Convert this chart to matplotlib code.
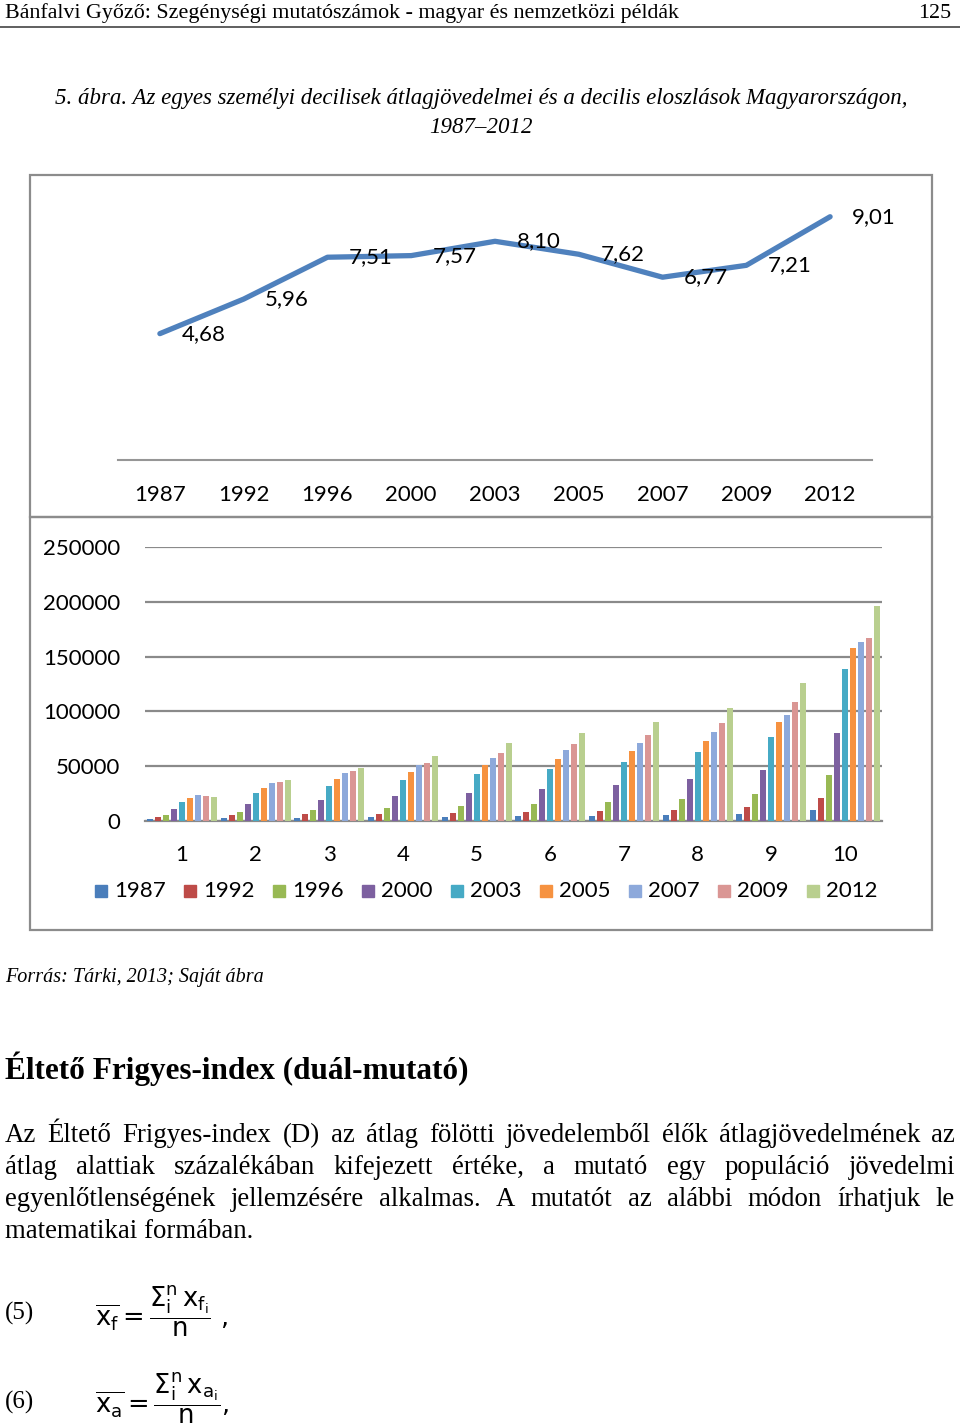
import numpy as np
import matplotlib
matplotlib.use('Agg')
import matplotlib.pyplot as plt
from matplotlib.patches import Rectangle

# Adatok
evek = ['1987', '1992', '1996', '2000', '2003', '2005', '2007', '2009', '2012']
arany = [4.68, 5.96, 7.51, 7.57, 8.10, 7.62, 6.77, 7.21, 9.01]
arany_cimke = ['4,68', '5,96', '7,51', '7,57', '8,10', '7,62', '6,77', '7,21', '9,01']

decilisek = ['1', '2', '3', '4', '5', '6', '7', '8', '9', '10']
# decilisenkénti átlagjövedelmek, évenként (becsült értékek)
d1987 = [2200, 2700, 3000, 3400, 4000, 4300, 4900, 5800, 6700, 10400]
d1992 = [3600, 5200, 6100, 6700, 7600, 8200, 9200, 10400, 12500, 21400]
d1996 = [5600, 8200, 10400, 12200, 13700, 15600, 17700, 20200, 24700, 42100]
d2000 = [10500, 15600, 19200, 22600, 26000, 29000, 32700, 37900, 46100, 80000]
d2003 = [17100, 25700, 31800, 37600, 42800, 47600, 54000, 62600, 76300, 138600]
d2005 = [20800, 30500, 37900, 44600, 51300, 56500, 63500, 73000, 90700, 158200]
d2007 = [24100, 35100, 43400, 50700, 57400, 64400, 71500, 80900, 97100, 163400]
d2009 = [23100, 35400, 45500, 52800, 61700, 70200, 78500, 89800, 109000, 166700]
d2012 = [21700, 37300, 48600, 59600, 70900, 80000, 90100, 103200, 125800, 196000]
sorozatok = [d1987, d1992, d1996, d2000, d2003, d2005, d2007, d2009, d2012]
y_ticks = [0, 50000, 100000, 150000, 200000, 250000]

szinek = ['#4A7EBB', '#BE4B48', '#98B954', '#7D60A0', '#46AAC5',
          '#F69240', '#8DA9DB', '#DA9694', '#B9CF8F']

W, H = 960, 1425
fig = plt.figure(figsize=(W / 100, H / 100), dpi=100)
fig.patch.set_facecolor('white')

def fx(x):
    return x / W

def fy(y):
    return 1 - y / H

def box(x0, y0, x1, y1, **kw):
    return fig.add_axes([fx(x0), fy(y1), (x1 - x0) / W, (y1 - y0) / H], **kw)

serif = 'Liberation Serif'
chartfont = 'Lato'

# Fejléc
fig.text(fx(5), fy(18), 'Bánfalvi Győző: Szegénységi mutatószámok - magyar és nemzetközi példák',
         family=serif, fontsize=15.8, va='baseline', ha='left')
fig.text(fx(951), fy(18), '125', family=serif, fontsize=15.8, va='baseline', ha='right')
fig.add_artist(plt.Line2D([0, 1], [fy(27), fy(27)], color='#444444', lw=1.2))

# Cím
fig.text(fx(481), fy(104), '5. ábra. Az egyes személyi decilisek átlagjövedelmei és a decilis eloszlások Magyarországon,',
         family=serif, style='italic', fontsize=16.5, ha='center', va='baseline')
fig.text(fx(481), fy(133), '1987–2012', family=serif, style='italic', fontsize=16.5,
         ha='center', va='baseline')

# Keretek
for (y0, y1) in [(175, 517), (517, 930)]:
    fig.add_artist(Rectangle((fx(30), fy(y1)), 902 / W, (y1 - y0) / H,
                             transform=fig.transFigure, fill=False,
                             edgecolor='#8C8C8C', lw=1.6))

# Vonaldiagram
ax1 = box(118, 190, 872, 460)
xs = np.arange(len(evek))
ax1.plot(xs, arany, color='#4F81BD', lw=3.8, solid_capstyle='round')
for x, v, c in zip(xs, arany, arany_cimke):
    ax1.text(x + 0.52, v, c, family=chartfont, fontsize=16, ha='center', va='center')
ax1.set_xlim(-0.5, len(evek) - 0.5)
ax1.set_ylim(0, 10)
ax1.set_xticks(xs)
ax1.set_xticklabels(evek, family=chartfont, fontsize=16)
ax1.set_yticks([])
ax1.tick_params(axis='x', length=0, pad=18)
for s in ['top', 'left', 'right']:
    ax1.spines[s].set_visible(False)
ax1.spines['bottom'].set_color('#969696')
ax1.spines['bottom'].set_linewidth(1.5)
ax1.patch.set_alpha(0)

# Oszlopdiagram
ax2 = box(145, 547, 882, 821)
xd = np.arange(len(decilisek))
slot = 0.1085
for j, (sor, szin) in enumerate(zip(sorozatok, szinek)):
    ax2.bar(xd + (j - 4) * slot, sor, width=0.081, color=szin, zorder=3)
ax2.set_xlim(-0.5, len(decilisek) - 0.5)
ax2.set_ylim(0, 250000)
ax2.set_yticks(y_ticks)
ax2.set_yticklabels([str(t) for t in y_ticks], family=chartfont, fontsize=16)
ax2.set_xticks(xd)
ax2.set_xticklabels(decilisek, family=chartfont, fontsize=16)
ax2.tick_params(axis='y', length=0, pad=18)
ax2.tick_params(axis='x', length=0, pad=17)
ax2.yaxis.grid(True, color='#8A8A8A', lw=1.6, zorder=0)
for s in ['top', 'left', 'right']:
    ax2.spines[s].set_visible(False)
ax2.spines['bottom'].set_color('#8A8A8A')
ax2.spines['bottom'].set_linewidth(1.6)

# Jelmagyarázat
for i, (ev, szin) in enumerate(zip(evek, szinek)):
    x0 = 95 + 89 * i
    fig.add_artist(Rectangle((fx(x0), fy(897)), 12 / W, 12 / H,
                             transform=fig.transFigure, color=szin))
    fig.text(fx(x0 + 19), fy(891), ev, family=chartfont, fontsize=16,
             ha='left', va='center')

# Forrás
fig.text(fx(5), fy(982), 'Forrás: Tárki, 2013; Saját ábra', family=serif,
         style='italic', fontsize=14.5, va='baseline')

# Alcím
fig.text(fx(5), fy(1079), 'Éltető Frigyes-index (duál-mutató)', family=serif,
         weight='bold', fontsize=22.5, va='baseline')

# Sorkizárt bekezdés
sorok = [
    'Az Éltető Frigyes-index (D) az átlag fölötti jövedelemből élők átlagjövedelmének az',
    'átlag alattiak százalékában kifejezett értéke, a mutató egy populáció jövedelmi',
    'egyenlőtlenségének jellemzésére alkalmas. A mutatót az alábbi módon írhatjuk le',
    'matematikai formában.',
]
alapvonal = [1142, 1174, 1206, 1238]
bek_meret = 19.3
renderer = fig.canvas.get_renderer()
for k, (sor, yb) in enumerate(zip(sorok, alapvonal)):
    szavak = sor.split(' ')
    if k == len(sorok) - 1:
        fig.text(fx(5), fy(yb), sor, family=serif, fontsize=bek_meret, va='baseline')
        continue
    elemek = [fig.text(0, fy(yb), s, family=serif, fontsize=bek_meret, va='baseline')
              for s in szavak]
    szel = [e.get_window_extent(renderer).width for e in elemek]
    res = (955 - 5 - sum(szel)) / (len(szavak) - 1)
    x = 5
    for e, w in zip(elemek, szel):
        e.set_x(fx(x))
        x += w + res

# Képletek
plt.rcParams['mathtext.fontset'] = 'dejavusans'
fig.text(fx(5), fy(1313), '(5)', family=serif, fontsize=18, va='center')
fig.text(fx(95), fy(1311),
         r'$\overline{\mathrm{x}_{\mathrm{f}}} = \dfrac{\Sigma_{\mathrm{i}}^{\mathrm{n}}\,\mathrm{x}_{\mathrm{f}_{\mathrm{i}}}}{\mathrm{n}}$ ,',
         fontsize=18.5, va='center')
fig.text(fx(5), fy(1402), '(6)', family=serif, fontsize=18, va='center')
fig.text(fx(95), fy(1398),
         r'$\overline{\mathrm{x}_{\mathrm{a}}} = \dfrac{\Sigma_{\mathrm{i}}^{\mathrm{n}}\,\mathrm{x}_{\mathrm{a}_{\mathrm{i}}}}{\mathrm{n}}$,',
         fontsize=18.5, va='center')

fig.savefig('out.png', dpi=100)
